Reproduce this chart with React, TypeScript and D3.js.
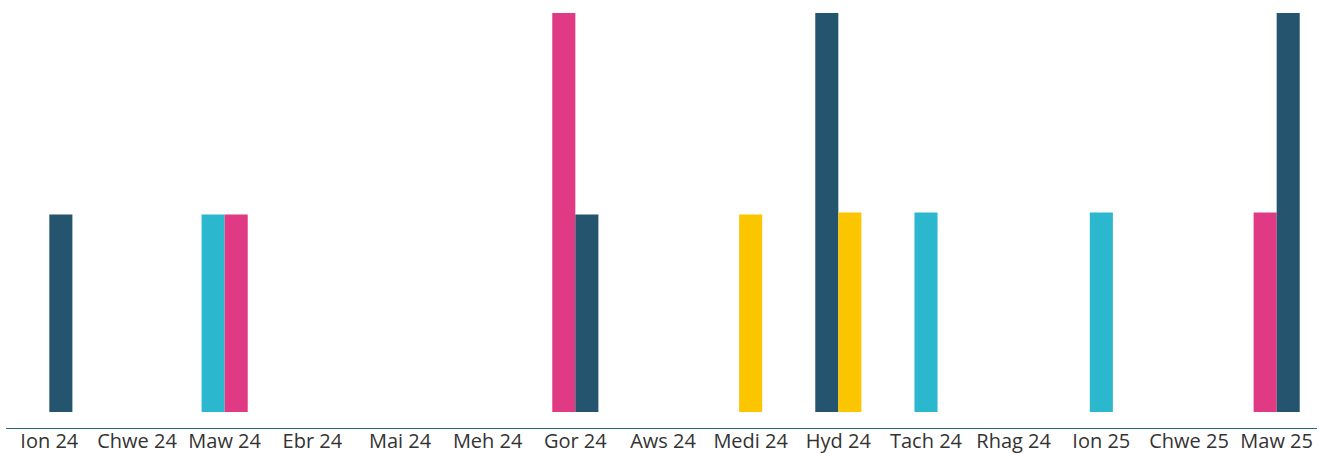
import React from 'react';
import * as d3 from 'd3';

const months = [
  'Ion 24', 'Chwe 24', 'Maw 24', 'Ebr 24', 'Mai 24', 'Meh 24', 'Gor 24', 'Aws 24',
  'Medi 24', 'Hyd 24', 'Tach 24', 'Rhag 24', 'Ion 25', 'Chwe 25', 'Maw 25',
];

// null = no bar in that month (skipped when grouping)
const cyanValues = [null, null, 0.99, null, null, null, null, null, null, null, 1, null, 1, null, null];
const pinkValues = [0, null, 0.99, null, null, null, 2, null, null, null, null, null, null, null, 1];
const darkValues = [0.99, null, null, null, null, null, 0.99, null, null, 2, null, null, null, null, 2];
const yellowValues = [null, null, null, null, null, null, null, null, 0.99, 1, null, null, null, null, null];

const seriesColors = ['#2bb8cf', '#e03a84', '#24546e', '#fbc500'];
const seriesValues = [cyanValues, pinkValues, darkValues, yellowValues];

const W = 1323;
const H = 454;
const margin = { left: 5.5, right: 2.5, top: 13, bottom: 42 };

const App: React.FC = () => {
  const x = d3
    .scaleBand<string>()
    .domain(months)
    .range([margin.left, W - margin.right])
    .padding(0);

  const y = d3.scaleLinear().domain([0, 2]).range([H - margin.bottom, margin.top]);

  const barW = x.bandwidth() * 0.263;

  const bars: { key: string; x: number; y: number; h: number; color: string }[] = [];
  months.forEach((m, i) => {
    const present = seriesValues
      .map((vals, s) => ({ v: vals[i], s }))
      .filter((d) => d.v !== null) as { v: number; s: number }[];
    const cx = (x(m) ?? 0) + x.bandwidth() / 2;
    const start = cx - (present.length * barW) / 2;
    present.forEach((d, k) => {
      bars.push({
        key: `${m}-${d.s}`,
        x: start + k * barW,
        y: y(d.v),
        h: y(0) - y(d.v),
        color: seriesColors[d.s],
      });
    });
  });

  const axisY = 428.5;

  return (
    <svg
      width={W}
      height={H}
      style={{ position: 'absolute', left: 0, top: 0, background: '#fff' }}
    >
      <g>
        {bars.map((b) => (
          <rect key={b.key} x={b.x} y={b.y} width={barW} height={Math.max(0, b.h)} fill={b.color} />
        ))}
      </g>
      <line x1={6} x2={W - 6} y1={axisY} y2={axisY} stroke="#2f6688" strokeWidth={1.2} />
      <g fontFamily="'Open Sans', sans-serif" fontSize={20} fill="#333" textAnchor="middle">
        {months.map((m) => (
          <text key={m} x={(x(m) ?? 0) + x.bandwidth() / 2} y={448}>
            {m}
          </text>
        ))}
      </g>
    </svg>
  );
};

export default App;
